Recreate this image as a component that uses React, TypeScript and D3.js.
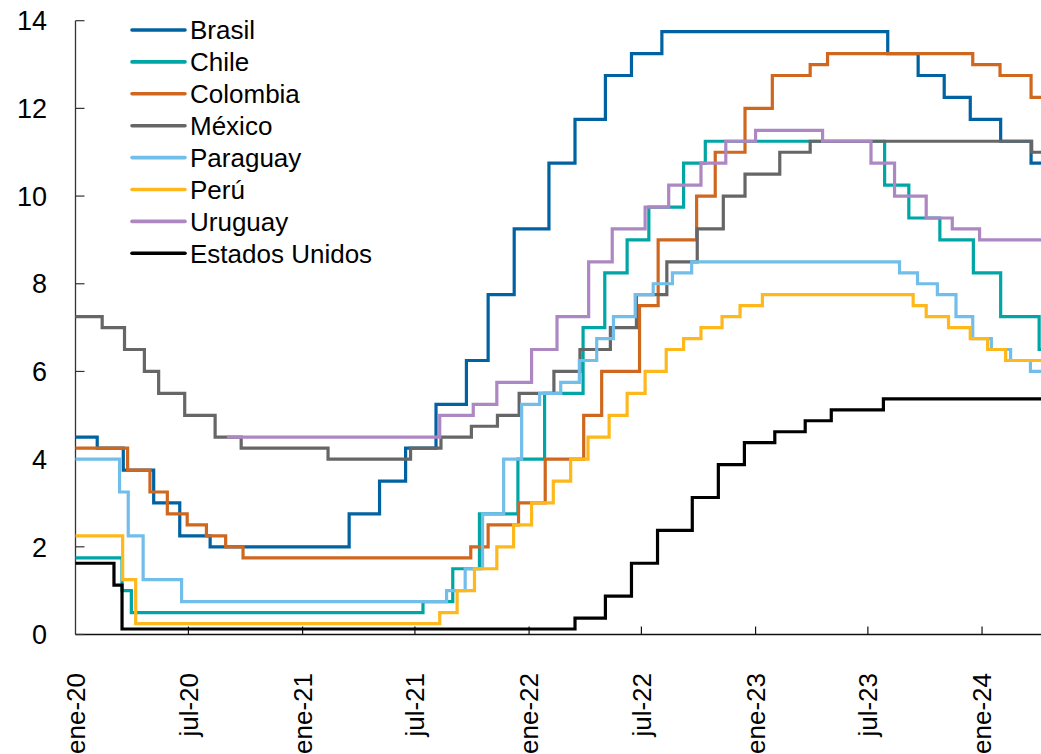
import React from "react";
import * as d3 from "d3";

type Pt = [string, number];

const brasil: Pt[] = [
  ["2020-01-01", 4.5], ["2020-02-05", 4.25], ["2020-03-18", 3.75], ["2020-05-06", 3.0],
  ["2020-06-17", 2.25], ["2020-08-05", 2.0], ["2021-03-17", 2.75], ["2021-05-05", 3.5],
  ["2021-06-16", 4.25], ["2021-08-04", 5.25], ["2021-09-22", 6.25], ["2021-10-27", 7.75],
  ["2021-12-08", 9.25], ["2022-02-02", 10.75], ["2022-03-16", 11.75], ["2022-05-04", 12.75],
  ["2022-06-15", 13.25], ["2022-08-03", 13.75], ["2023-08-02", 13.25], ["2023-09-20", 12.75],
  ["2023-11-01", 12.25], ["2023-12-13", 11.75], ["2024-01-31", 11.25], ["2024-03-20", 10.75],
];

const chile: Pt[] = [
  ["2020-01-01", 1.75], ["2020-03-16", 1.0], ["2020-03-31", 0.5], ["2021-07-14", 0.75],
  ["2021-08-31", 1.5], ["2021-10-13", 2.75], ["2021-12-14", 4.0], ["2022-01-26", 5.5],
  ["2022-03-29", 7.0], ["2022-05-03", 8.25], ["2022-06-08", 9.0], ["2022-07-13", 9.75],
  ["2022-09-07", 10.75], ["2022-10-12", 11.25], ["2023-07-28", 10.25], ["2023-09-05", 9.5],
  ["2023-10-25", 9.0], ["2023-12-18", 8.25], ["2024-01-31", 7.25], ["2024-04-02", 6.5],
];

const colombia: Pt[] = [
  ["2020-01-01", 4.25], ["2020-03-25", 3.75], ["2020-04-30", 3.25], ["2020-05-28", 2.75],
  ["2020-06-29", 2.5], ["2020-07-30", 2.25], ["2020-08-30", 2.0], ["2020-09-27", 1.75],
  ["2021-09-29", 2.0], ["2021-10-27", 2.5], ["2021-12-15", 3.0], ["2022-01-27", 4.0],
  ["2022-03-30", 5.0], ["2022-04-28", 6.0], ["2022-06-28", 7.5], ["2022-07-28", 9.0],
  ["2022-09-28", 10.0], ["2022-10-28", 11.0], ["2022-12-15", 12.0], ["2023-01-28", 12.75],
  ["2023-03-30", 13.0], ["2023-04-27", 13.25], ["2023-12-17", 13.0], ["2024-01-30", 12.75],
  ["2024-03-20", 12.25],
];

const mexico: Pt[] = [
  ["2020-01-01", 7.25], ["2020-02-13", 7.0], ["2020-03-20", 6.5], ["2020-04-21", 6.0],
  ["2020-05-14", 5.5], ["2020-06-25", 5.0], ["2020-08-13", 4.5], ["2020-09-24", 4.25],
  ["2021-02-11", 4.0], ["2021-06-24", 4.25], ["2021-08-12", 4.5], ["2021-09-30", 4.75],
  ["2021-11-11", 5.0], ["2021-12-16", 5.5], ["2022-02-10", 6.0], ["2022-03-24", 6.5],
  ["2022-05-12", 7.0], ["2022-06-23", 7.75], ["2022-08-11", 8.5], ["2022-09-29", 9.25],
  ["2022-11-10", 10.0], ["2022-12-15", 10.5], ["2023-02-09", 11.0], ["2023-03-30", 11.25],
  ["2024-03-21", 11.0],
];

const paraguay: Pt[] = [
  ["2020-01-01", 4.0], ["2020-03-12", 3.25], ["2020-03-26", 2.25], ["2020-04-19", 1.25],
  ["2020-06-20", 0.75], ["2021-08-21", 1.0], ["2021-09-20", 1.5], ["2021-10-18", 2.75],
  ["2021-11-21", 4.0], ["2021-12-20", 5.25], ["2022-01-18", 5.5], ["2022-02-21", 5.75],
  ["2022-03-23", 6.25], ["2022-04-20", 6.75], ["2022-05-17", 7.25], ["2022-06-21", 7.75],
  ["2022-07-20", 8.0], ["2022-08-20", 8.25], ["2022-09-20", 8.5], ["2023-08-21", 8.25],
  ["2023-09-19", 8.0], ["2023-10-21", 7.75], ["2023-11-20", 7.25], ["2023-12-17", 6.75],
  ["2024-01-16", 6.5], ["2024-02-16", 6.25], ["2024-03-19", 6.0],
];

const peru: Pt[] = [
  ["2020-01-01", 2.25], ["2020-03-17", 1.25], ["2020-04-07", 0.25], ["2021-08-10", 0.5],
  ["2021-09-07", 1.0], ["2021-10-05", 1.5], ["2021-11-10", 2.0], ["2021-12-07", 2.5],
  ["2022-01-05", 3.0], ["2022-02-09", 3.5], ["2022-03-09", 4.0], ["2022-04-06", 4.5],
  ["2022-05-10", 5.0], ["2022-06-08", 5.5], ["2022-07-07", 6.0], ["2022-08-10", 6.5],
  ["2022-09-07", 6.75], ["2022-10-05", 7.0], ["2022-11-08", 7.25], ["2022-12-07", 7.5],
  ["2023-01-12", 7.75], ["2023-09-12", 7.5], ["2023-10-03", 7.25], ["2023-11-08", 7.0],
  ["2023-12-13", 6.75], ["2024-01-10", 6.5], ["2024-02-08", 6.25],
];

const uruguay: Pt[] = [
  ["2020-09-01", 4.5], ["2021-08-10", 5.0], ["2021-10-03", 5.25], ["2021-11-10", 5.75],
  ["2022-01-05", 6.5], ["2022-02-15", 7.25], ["2022-04-07", 8.5], ["2022-05-15", 9.25],
  ["2022-07-07", 9.75], ["2022-08-14", 10.25], ["2022-10-05", 10.75], ["2022-11-14", 11.25],
  ["2023-01-01", 11.5], ["2023-04-19", 11.25], ["2023-07-06", 10.75], ["2023-08-13", 10.0],
  ["2023-10-03", 9.5], ["2023-11-14", 9.25], ["2023-12-28", 9.0],
];

const estadosUnidos: Pt[] = [
  ["2020-01-01", 1.625], ["2020-03-03", 1.125], ["2020-03-16", 0.125], ["2022-03-16", 0.375],
  ["2022-05-04", 0.875], ["2022-06-15", 1.625], ["2022-07-27", 2.375], ["2022-09-21", 3.125],
  ["2022-11-02", 3.875], ["2022-12-14", 4.375], ["2023-02-01", 4.625], ["2023-03-22", 4.875],
  ["2023-05-03", 5.125], ["2023-07-26", 5.375],
];

const seriesNames = ["Brasil", "Chile", "Colombia", "México", "Paraguay", "Perú", "Uruguay", "Estados Unidos"];
const seriesData = [brasil, chile, colombia, mexico, paraguay, peru, uruguay, estadosUnidos];
const seriesColors = ["#0062A1", "#00A5A6", "#D0671F", "#666666", "#72BEEA", "#FFB81C", "#AC87C2", "#000000"];

const xTickDates = ["2020-01-01", "2020-07-01", "2021-01-01", "2021-07-01", "2022-01-01", "2022-07-01", "2023-01-01", "2023-07-01", "2024-01-01"];
const xTickLabels = ["ene-20", "jul-20", "ene-21", "jul-21", "ene-22", "jul-22", "ene-23", "jul-23", "ene-24"];
const yTicks = [0, 2, 4, 6, 8, 10, 12, 14];

const START = "2020-01-01";
const END = "2024-04-05";

const W = 1041;
const H = 754;
const FONT = "'Liberation Sans', Arial, Helvetica, sans-serif";

const parse = d3.utcParse("%Y-%m-%d");

export default function App() {
  const x = d3.scaleUtc().domain([parse(START)!, parse(END)!]).range([75.5, 1041]);
  const y = d3.scaleLinear().domain([0, 14]).range([634.5, 20.7]);

  const line = d3
    .line<[Date, number]>()
    .x((d) => x(d[0]))
    .y((d) => y(d[1]))
    .curve(d3.curveStepAfter);

  const paths = seriesData.map((s) => {
    const pts: [Date, number][] = s.map(([d, v]) => [parse(d)!, v]);
    pts.push([parse(END)!, s[s.length - 1][1]]);
    return line(pts) || "";
  });

  const axisX0 = x(parse(START)!);
  const axisY0 = y(0);

  return (
    <svg
      width={W}
      height={H}
      style={{ position: "absolute", left: 0, top: 0, background: "#fff" }}
      fontFamily={FONT}
    >
      <rect x={0} y={0} width={W} height={H} fill="#fff" />
      {/* axes */}
      <line x1={axisX0} x2={axisX0} y1={y(14)} y2={axisY0} stroke="#333" strokeWidth={1.3} />
      <line x1={axisX0} x2={W} y1={axisY0} y2={axisY0} stroke="#111" strokeWidth={1.3} />
      {yTicks.map((t) => (
        <g key={"yt" + t}>
          <line x1={axisX0} x2={axisX0 + 9} y1={y(t)} y2={y(t)} stroke="#333" strokeWidth={1.2} />
          <text x={47} y={y(t)} dy="0.36em" textAnchor="end" fontSize={27} fill="#000">
            {t}
          </text>
        </g>
      ))}
      {xTickDates.map((d, i) => {
        const xx = x(parse(d)!);
        return (
          <g key={"xt" + d}>
            {i > 0 && <line x1={xx} x2={xx} y1={axisY0} y2={axisY0 - 8} stroke="#111" strokeWidth={1.2} />}
            <text
              transform={`translate(${xx},${673}) rotate(-90)`}
              dy="0.35em"
              textAnchor="end"
              fontSize={26}
              fill="#000"
            >
              {xTickLabels[i]}
            </text>
          </g>
        );
      })}
      {/* series */}
      {paths.map((p, i) => (
        <path key={seriesNames[i]} d={p} fill="none" stroke={seriesColors[i]} strokeWidth={3.2} strokeLinejoin="miter" />
      ))}
      {/* legend */}
      {seriesNames.map((n, i) => {
        const ly = 30 + i * 31.9;
        return (
          <g key={"lg" + n}>
            <line x1={132} x2={185} y1={ly} y2={ly} stroke={seriesColors[i]} strokeWidth={3.6} strokeLinecap="round" />
            <text x={190} y={ly} dy="0.36em" fontSize={26} fill="#000">
              {n}
            </text>
          </g>
        );
      })}
    </svg>
  );
}
